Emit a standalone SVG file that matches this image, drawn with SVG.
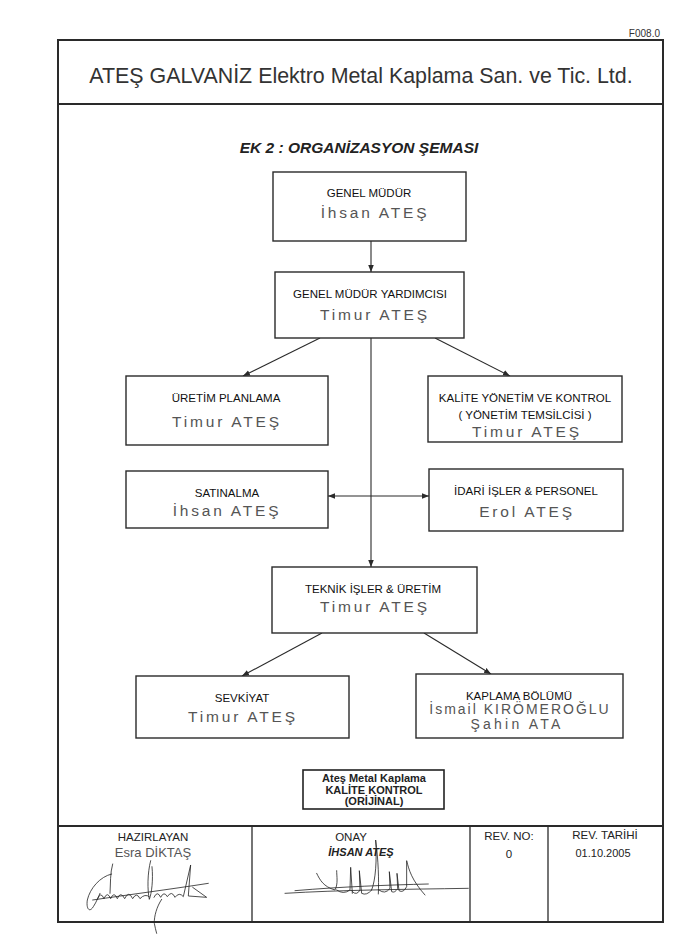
<svg xmlns="http://www.w3.org/2000/svg" width="691" height="950" viewBox="0 0 691 950">
<defs>
<style>
.box{fill:#fff;stroke:#2a2a2a;stroke-width:1.4}
.frame{fill:none;stroke:#2a2a2a;stroke-width:2}
.ln{fill:none;stroke:#2a2a2a;stroke-width:1.1}
.lbl{font-family:"Liberation Sans",Arial,sans-serif;font-size:11.5px;fill:#111;text-anchor:middle}
.nm{font-family:"Liberation Sans",Arial,sans-serif;font-size:15.5px;fill:#555;text-anchor:middle;letter-spacing:2.8px}
.ft{font-family:"Liberation Sans",Arial,sans-serif;font-size:11.5px;fill:#222;text-anchor:middle}
.stamp{font-family:"Liberation Sans",Arial,sans-serif;font-size:11px;font-weight:bold;fill:#222;text-anchor:middle}
.sig{fill:none;stroke:#222;stroke-width:2.4;stroke-linecap:round;stroke-linejoin:round}
</style>
<marker id="ah" viewBox="0 0 10 10" refX="10" refY="5" markerWidth="7" markerHeight="7" orient="auto-start-reverse" markerUnits="userSpaceOnUse">
<path d="M0,1 L10,5 L0,9 Z" fill="#2a2a2a"/>
</marker>
</defs>
<rect width="691" height="950" fill="#fff"/>

<g id="page">
<text x="660" y="37" font-family="Liberation Sans,Arial,sans-serif" font-size="10" fill="#333" text-anchor="end">F008.0</text>
<rect class="frame" x="58" y="40" width="605" height="882"/>
<line class="frame" x1="58" y1="104" x2="663" y2="104"/>
<text x="361" y="83" font-family="Liberation Sans,Arial,sans-serif" font-size="21.4" fill="#333" text-anchor="middle">ATEŞ GALVANİZ Elektro Metal Kaplama San. ve Tic. Ltd.</text>
<text x="359" y="153" font-family="Liberation Sans,Arial,sans-serif" font-size="15.5" font-weight="bold" font-style="italic" fill="#222" text-anchor="middle">EK 2 : ORGANİZASYON ŞEMASI</text>
</g>

<g id="connectors">
<line class="ln" x1="371" y1="241" x2="371" y2="272" marker-end="url(#ah)"/>
<line class="ln" x1="371" y1="338" x2="371" y2="567" marker-end="url(#ah)"/>
<line class="ln" x1="320" y1="338" x2="243" y2="376" marker-end="url(#ah)"/>
<line class="ln" x1="435" y1="338" x2="510" y2="376" marker-end="url(#ah)"/>
<line class="ln" x1="328" y1="496" x2="429" y2="496" marker-start="url(#ah)" marker-end="url(#ah)"/>
<line class="ln" x1="322" y1="633" x2="242" y2="676" marker-end="url(#ah)"/>
<line class="ln" x1="424" y1="633" x2="491" y2="674" marker-end="url(#ah)"/>
</g>

<g id="genel-mudur">
<rect class="box" x="273" y="172" width="193" height="69"/>
<text class="lbl" x="369" y="197">GENEL MÜDÜR</text>
<text class="nm" x="375" y="218">İhsan ATEŞ</text>
</g>

<g id="genel-mudur-yardimcisi">
<rect class="box" x="275" y="272" width="189" height="66"/>
<text class="lbl" x="370" y="298">GENEL MÜDÜR YARDIMCISI</text>
<text class="nm" x="375" y="320">Timur ATEŞ</text>
</g>

<g id="uretim-planlama">
<rect class="box" x="126" y="376" width="202" height="69"/>
<text class="lbl" x="226" y="402">ÜRETİM PLANLAMA</text>
<text class="nm" x="227" y="427">Timur ATEŞ</text>
</g>

<g id="kalite">
<rect class="box" x="428" y="376" width="194" height="66"/>
<text class="lbl" x="525" y="402">KALİTE YÖNETİM VE KONTROL</text>
<text class="lbl" x="525" y="419">( YÖNETİM TEMSİLCİSİ )</text>
<text class="nm" x="527" y="437">Timur ATEŞ</text>
</g>

<g id="satinalma">
<rect class="box" x="126" y="471" width="202" height="57"/>
<text class="lbl" x="227" y="497">SATINALMA</text>
<text class="nm" x="227" y="516">İhsan ATEŞ</text>
</g>

<g id="idari">
<rect class="box" x="429" y="469" width="194" height="62"/>
<text class="lbl" x="526" y="495">İDARİ İŞLER &amp; PERSONEL</text>
<text class="nm" x="527" y="517">Erol ATEŞ</text>
</g>

<g id="teknik">
<rect class="box" x="272" y="567" width="205" height="66"/>
<text class="lbl" x="373" y="593">TEKNİK İŞLER &amp; ÜRETİM</text>
<text class="nm" x="375" y="612">Timur ATEŞ</text>
</g>

<g id="sevkiyat">
<rect class="box" x="136" y="676" width="213" height="62"/>
<text class="lbl" x="242" y="702">SEVKİYAT</text>
<text class="nm" x="243" y="722">Timur ATEŞ</text>
</g>

<g id="kaplama">
<rect class="box" x="416" y="674" width="207" height="64"/>
<text class="lbl" x="519" y="700">KAPLAMA BÖLÜMÜ</text>
<text class="nm" x="520" y="714" style="letter-spacing:2px;font-size:14px">İsmail KIRÖMEROĞLU</text>
<text class="nm" x="517" y="729" style="letter-spacing:3.2px;font-size:14px">Şahin ATA</text>
</g>

<g id="stamp">
<rect x="303" y="770" width="141" height="39" fill="none" stroke="#222" stroke-width="1.6"/>
<text class="stamp" x="374" y="782">Ateş Metal Kaplama</text>
<text class="stamp" x="374" y="793.5">KALİTE KONTROL</text>
<text class="stamp" x="374" y="805">(ORİJİNAL)</text>
</g>

<g id="footer">
<line class="frame" x1="58" y1="826" x2="663" y2="826"/>
<line class="ln" x1="252" y1="826" x2="252" y2="922" style="stroke-width:1.3"/>
<line class="ln" x1="470" y1="826" x2="470" y2="922" style="stroke-width:1.3"/>
<line class="ln" x1="548" y1="826" x2="548" y2="922" style="stroke-width:1.3"/>
<text class="ft" x="153" y="841">HAZIRLAYAN</text>
<text class="ft" x="153" y="857" style="font-size:13px;fill:#555">Esra DİKTAŞ</text>
<text class="ft" x="351" y="841">ONAY</text>
<text class="ft" x="361" y="856" style="font-weight:bold;font-style:italic;font-size:11px">İHSAN ATEŞ</text>
<text class="ft" x="509" y="840">REV. NO:</text>
<text class="ft" x="509" y="858">0</text>
<text class="ft" x="605" y="839">REV. TARİHİ</text>
<text class="ft" x="603" y="857" style="font-size:11px">01.10.2005</text>
</g>

<g id="signature-1" transform="translate(60,860) scale(0.3333)">
<path class="sig" d="M158,12 C150,40 152,70 150,100 M155,42 C120,50 90,85 82,120 C78,145 88,160 100,140 C110,125 115,110 120,100"/>
<path class="sig" d="M112,118 Q122,92 132,116 Q142,92 152,116 Q162,92 172,116 Q182,92 194,116 Q206,90 218,116 Q230,95 240,116 Q255,100 268,110"/>
<path class="sig" d="M272,2 C262,40 262,90 268,118 C275,100 280,60 276,20"/>
<path class="sig" d="M282,112 Q292,90 302,112 Q312,92 322,110 Q335,90 345,112 Q358,95 370,110 L392,15 L385,108 L440,112 L398,82"/>
<path class="sig" d="M98,120 C200,105 330,88 445,70"/>
<path class="sig" d="M305,118 C290,140 282,170 283,190 C284,200 288,210 290,220"/>
</g>

<g id="signature-2" transform="translate(255,840) scale(0.3333)">
<path class="sig" d="M90,160 C250,150 450,148 640,145"/>
<path class="sig" d="M120,152 C260,140 400,135 520,132"/>
<path class="sig" d="M185,100 C195,120 205,140 240,150 C250,130 245,110 245,92"/>
<path class="sig" d="M245,150 Q265,165 285,150 L287,82 L292,160"/>
<path class="sig" d="M292,155 Q305,168 315,150 L313,92 L320,160 Q335,168 350,150"/>
<path class="sig" d="M350,150 C362,120 366,60 362,0 C370,60 372,120 370,162"/>
<path class="sig" d="M372,150 Q390,165 405,145 L403,95 L410,155 Q420,160 428,145 L426,100 L432,152 Q445,160 455,140 L455,62 C462,90 470,120 510,165"/>
</g>
</svg>
